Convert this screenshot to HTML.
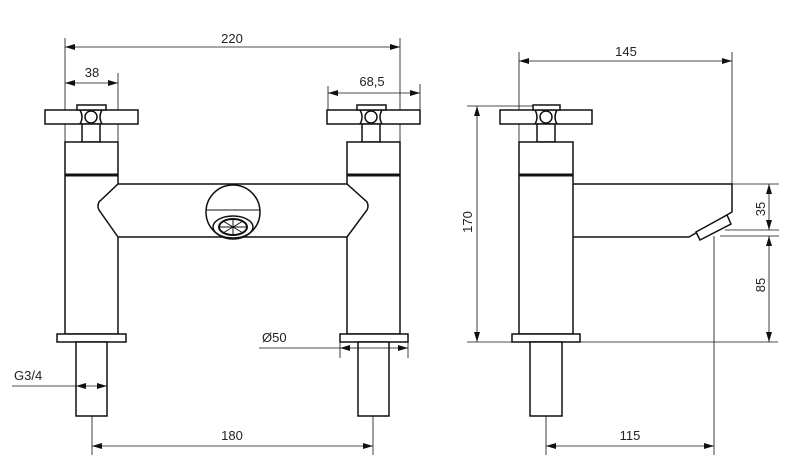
<!DOCTYPE html>
<html><head><style>body{margin:0;background:#fff}svg{display:block}text{font-family:"Liberation Sans",sans-serif;font-size:13px;fill:#222}</style></head>
<body>
<svg width="800" height="462" viewBox="0 0 800 462" xmlns="http://www.w3.org/2000/svg">
<defs><marker id="a" viewBox="0 0 10 6" refX="10" refY="3" markerWidth="10" markerHeight="6" orient="auto-start-reverse" markerUnits="userSpaceOnUse"><path d="M0,0L10,3L0,6z" fill="#111"/></marker></defs>
<g stroke="#111" stroke-width="0.8" fill="none">
<line x1="65" y1="38" x2="65" y2="142"/><line x1="400" y1="38" x2="400" y2="142"/>
<line x1="65" y1="47" x2="400" y2="47" marker-start="url(#a)" marker-end="url(#a)"/>
<line x1="118" y1="73" x2="118" y2="142"/>
<line x1="65" y1="83" x2="118" y2="83" marker-start="url(#a)" marker-end="url(#a)"/>
<line x1="420" y1="84" x2="420" y2="112"/><line x1="328" y1="86" x2="328" y2="110"/>
<line x1="328" y1="93" x2="420" y2="93" marker-start="url(#a)" marker-end="url(#a)"/>
<line x1="92" y1="416" x2="92" y2="455"/><line x1="373" y1="416" x2="373" y2="455"/>
<line x1="92" y1="446" x2="373" y2="446" marker-start="url(#a)" marker-end="url(#a)"/>
<line x1="519" y1="52" x2="519" y2="142"/><line x1="732" y1="52" x2="732" y2="185"/>
<line x1="519" y1="61" x2="732" y2="61" marker-start="url(#a)" marker-end="url(#a)"/>
<line x1="467" y1="106" x2="540" y2="106"/><line x1="467" y1="342" x2="778" y2="342"/>
<line x1="477" y1="106" x2="477" y2="342" marker-start="url(#a)" marker-end="url(#a)"/>
<line x1="732" y1="184" x2="779" y2="184"/><line x1="725" y1="230" x2="779" y2="230"/><line x1="720" y1="236" x2="779" y2="236"/>
<line x1="769" y1="184" x2="769" y2="230" marker-start="url(#a)" marker-end="url(#a)"/>
<line x1="769" y1="236" x2="769" y2="342" marker-start="url(#a)" marker-end="url(#a)"/>
<line x1="714" y1="236" x2="714" y2="455"/><line x1="546" y1="416" x2="546" y2="455"/>
<line x1="546" y1="446" x2="714" y2="446" marker-start="url(#a)" marker-end="url(#a)"/>
</g>
<g stroke="#111" stroke-width="1.5" fill="#fff">
<rect x="45" y="110" width="93" height="14"/><rect x="77" y="105" width="29" height="5"/>
<rect x="82" y="124" width="18" height="18"/><circle cx="91" cy="117" r="6"/>
<path d="M80,110 Q84,117 80,124 M102,110 Q98,117 102,124" fill="none"/>
<rect x="65" y="142" width="53" height="192"/>
<line x1="65" y1="175" x2="118" y2="175" stroke-width="3"/>
<rect x="327" y="110" width="93" height="14"/><rect x="357" y="105" width="29" height="5"/>
<rect x="362" y="124" width="18" height="18"/><circle cx="371" cy="117" r="6"/>
<path d="M360,110 Q364,117 360,124 M382,110 Q378,117 382,124" fill="none"/>
<rect x="347" y="142" width="53" height="192"/>
<line x1="347" y1="175" x2="400" y2="175" stroke-width="3"/>
<path d="M118,184 L347,184 L367,202 Q369,206 367,210 L347,237 L118,237 L99,210 Q97,206 99,202 Z"/>
<circle cx="233" cy="212" r="27"/>
<line x1="206" y1="210" x2="260" y2="210" stroke-width="1"/>
<ellipse cx="233" cy="227" rx="20" ry="11"/>
<ellipse cx="233" cy="227" rx="14" ry="8" stroke-width="2"/>
<path d="M219,227h28M233,219v16M223,221l20,12M243,221l-20,12" stroke-width="1"/>
<rect x="57" y="334" width="69" height="8"/><rect x="76" y="342" width="31" height="74"/>
<rect x="340" y="334" width="68" height="8"/><rect x="358" y="342" width="31" height="74"/>
<rect x="500" y="110" width="92" height="14"/><rect x="533" y="105" width="27" height="5"/>
<rect x="537" y="124" width="18" height="18"/><circle cx="546" cy="117" r="6"/>
<path d="M535,110 Q539,117 535,124 M557,110 Q553,117 557,124" fill="none"/>
<path d="M573,184 L732,184 L732,212 L689,237 L573,237"/>
<rect x="519" y="142" width="54" height="192"/>
<line x1="519" y1="175" x2="573" y2="175" stroke-width="3"/>
<path d="M696,232 L727,215 L731,224 L700,240 Z"/>
<rect x="512" y="334" width="68" height="8"/><rect x="530" y="342" width="32" height="74"/>
</g>
<g stroke="#111" stroke-width="0.8" fill="none">
<line x1="12" y1="386" x2="76" y2="386"/>
<line x1="76" y1="386" x2="107" y2="386" marker-start="url(#a)" marker-end="url(#a)"/>
<line x1="259" y1="348" x2="340" y2="348"/><line x1="340" y1="342" x2="340" y2="358"/><line x1="408" y1="342" x2="408" y2="358"/>
<line x1="340" y1="348" x2="408" y2="348" marker-start="url(#a)" marker-end="url(#a)"/>
</g>
<text x="232" y="43" text-anchor="middle">220</text>
<text x="92" y="77" text-anchor="middle">38</text>
<text x="372" y="86" text-anchor="middle">68,5</text>
<text x="14" y="380">G3/4</text>
<text x="262" y="342">Ø50</text>
<text x="232" y="440" text-anchor="middle">180</text>
<text x="626" y="56" text-anchor="middle">145</text>
<text x="630" y="440" text-anchor="middle">115</text>
<text transform="translate(472,222) rotate(-90)" text-anchor="middle">170</text>
<text transform="translate(765,209) rotate(-90)" text-anchor="middle">35</text>
<text transform="translate(765,285) rotate(-90)" text-anchor="middle">85</text>
</svg>
</body></html>
